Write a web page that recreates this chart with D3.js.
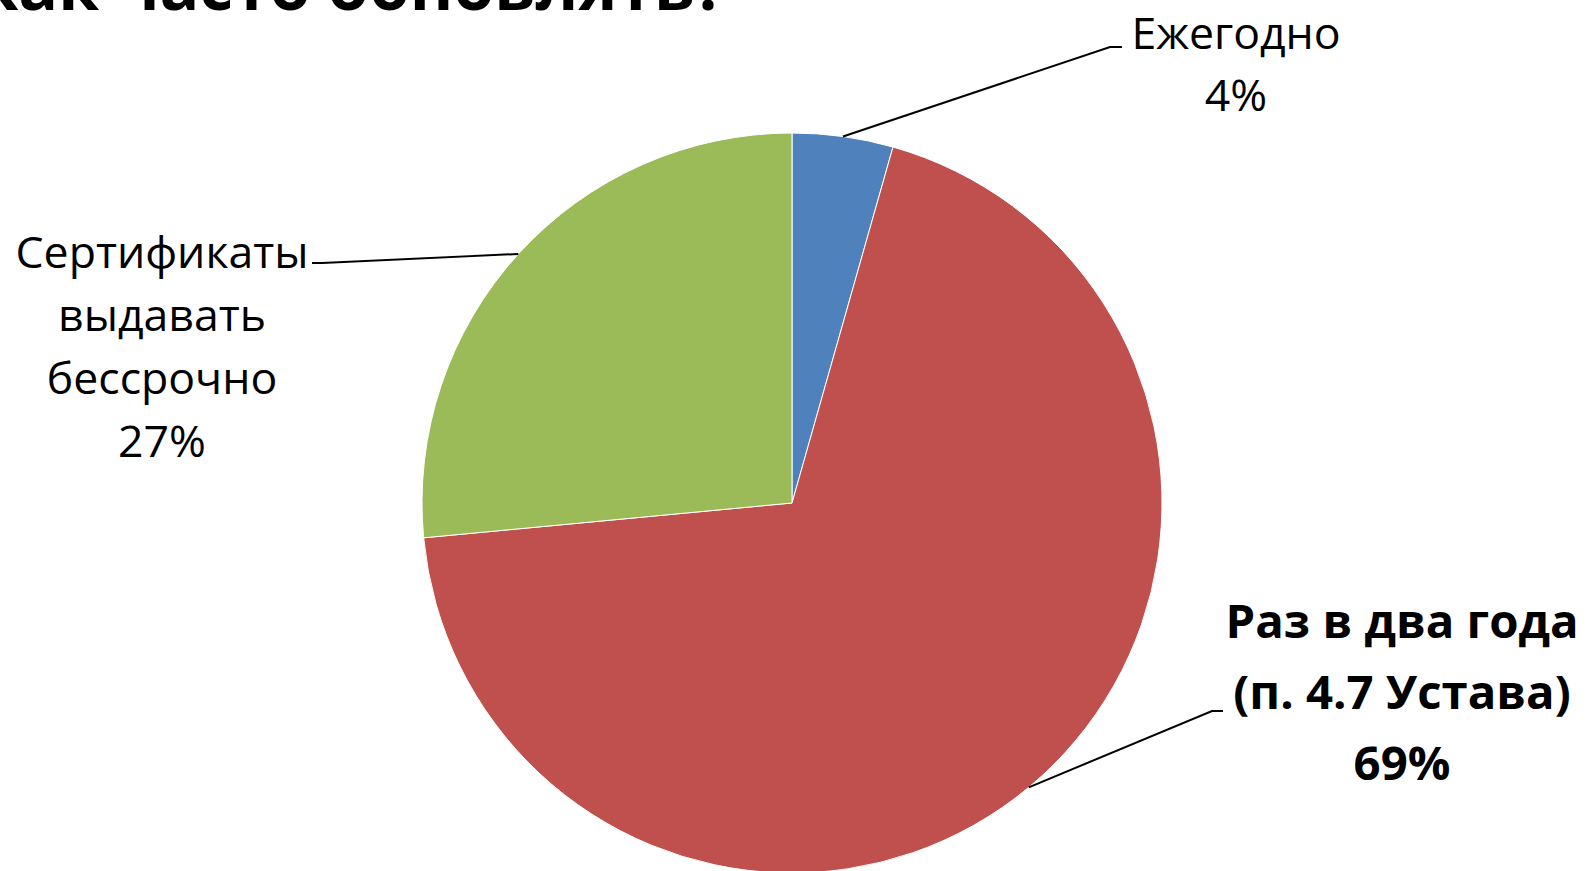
<!DOCTYPE html>
<html>
<head>
<meta charset="utf-8">
<script src="https://cdn.jsdelivr.net/npm/d3@7"></script>
<style>
  html, body { margin: 0; padding: 0; background: #ffffff; }
  svg { display: block; }
</style>
</head>
<body>
<svg id="chart" width="1587" height="871"></svg>
<script>
// ---- data ----
const categories = ["Ежегодно", "Раз в два года (п. 4.7 Устава)", "Сертификаты выдавать бессрочно"];
const values = [4.4, 69.1, 26.5];
const percentLabels = ["4%", "69%", "27%"];
const labelLines = [
  ["Ежегодно"],
  ["Раз в два года", "(п. 4.7 Устава)"],
  ["Сертификаты", "выдавать", "бессрочно"]
];
const colors = ["#4F81BD", "#C0504D", "#9BBB59"];
const titleText = "Как часто обновлять?";

// ---- layout ----
const svg = d3.select("#chart");
const FONT = "'Open Sans', 'Noto Sans', sans-serif";
const cx = 792, cy = 503, R = 370;

// title (mostly cut off at top, as in the reference)
svg.append("text")
  .attr("x", 726).attr("y", 10)
  .attr("text-anchor", "end")
  .attr("font-family", FONT)
  .attr("font-weight", 700)
  .attr("font-size", 66)
  .attr("fill", "#000")
  .text(titleText);

const pie = d3.pie().sort(null).value(d => d);
const arcs = pie(values);
const arc = d3.arc().innerRadius(0).outerRadius(R);
const edge = d3.arc().innerRadius(R).outerRadius(R);

const g = svg.append("g").attr("transform", `translate(${cx},${cy})`);
g.selectAll("path.slice")
  .data(arcs)
  .join("path")
  .attr("class", "slice")
  .attr("d", arc)
  .attr("fill", (d, i) => colors[i])
  .attr("stroke", "#ffffff")
  .attr("stroke-width", 1);

// label layout (positions only)
const labelLayout = [
  { x: 1236, y0: 49, dy: 62, bold: false, knee: [1110, 47], end: [1122, 47] },
  { x: 1402, y0: 638, dy: 71, bold: true, knee: [1212, 711], end: [1223, 711] },
  { x: 162, y0: 268, dy: 63, bold: false, knee: [322, 263], end: [312, 263] }
];

// font sizes fitted to reference line widths
function fitSize(str, weight, target) {
  const t = svg.append("text").attr("font-family", FONT).attr("font-weight", weight)
    .attr("font-size", 100).text(str);
  const w = t.node().getComputedTextLength();
  t.remove();
  return 100 * target / w;
}
const regSize = fitSize("Сертификаты", 400, 293);
const boldSize = fitSize("Раз в два года", 700, 353);

arcs.forEach((a, i) => {
  const L = labelLayout[i];
  const c = edge.centroid(a);
  const start = [cx + c[0], cy + c[1]];
  svg.append("polyline")
    .attr("points", [start, L.knee, L.end].map(p => p.join(",")).join(" "))
    .attr("fill", "none")
    .attr("stroke", "#000")
    .attr("stroke-width", 2);

  const lines = labelLines[i].concat([percentLabels[i]]);
  const t = svg.append("text")
    .attr("font-family", FONT)
    .attr("font-weight", L.bold ? 700 : 400)
    .attr("font-size", L.bold ? boldSize : regSize)
    .attr("text-anchor", "middle")
    .attr("fill", "#000");
  lines.forEach((ln, k) => {
    t.append("tspan").attr("x", L.x).attr("y", L.y0 + k * L.dy).text(ln);
  });
});
</script>
</body>
</html>
